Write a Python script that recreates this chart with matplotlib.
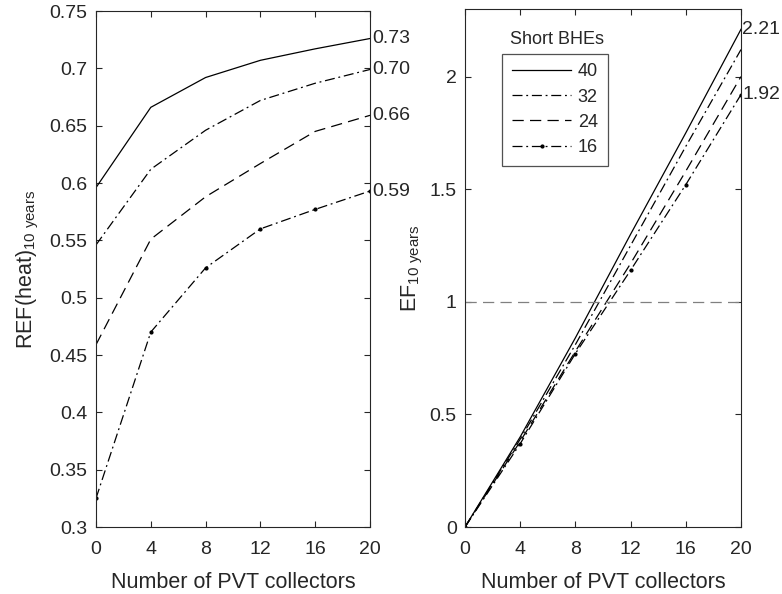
import matplotlib
matplotlib.use("Agg")
import matplotlib.pyplot as plt

plt.rcParams['font.family'] = ['Liberation Sans', 'DejaVu Sans']
plt.rcParams['mathtext.fontset'] = 'custom'
plt.rcParams['mathtext.rm'] = 'Liberation Sans'

x_pvt = [0, 4, 8, 12, 16, 20]
bhe_labels = ['40', '32', '24', '16']

ref_40 = [0.596, 0.666, 0.692, 0.707, 0.717, 0.726]
ref_32 = [0.546, 0.612, 0.646, 0.672, 0.687, 0.699]
ref_24 = [0.459, 0.551, 0.588, 0.617, 0.645, 0.659]
ref_16 = [0.325, 0.470, 0.526, 0.560, 0.577, 0.593]

ef_40 = [0.0, 0.40, 0.84, 1.30, 1.75, 2.21]
ef_32 = [0.0, 0.39, 0.81, 1.25, 1.69, 2.12]
ef_24 = [0.0, 0.38, 0.78, 1.17, 1.58, 2.00]
ef_16 = [0.0, 0.37, 0.77, 1.14, 1.52, 1.92]

ref_end_labels = ['0.73', '0.70', '0.66', '0.59']
ef_end_labels = ['2.21', '1.92']

dark = (0.15, 0.15, 0.15)
fig = plt.figure(figsize=(7.82, 5.94), dpi=100)
ax1 = fig.add_axes([96/782, 67/594, 274/782, 516/594])
ax2 = fig.add_axes([465/782, 67/594, 276/782, 518/594])

styles = [dict(ls='-'), dict(ls=(0, (8, 3, 1.5, 3))), dict(ls=(0, (9, 5))),
          dict(ls=(0, (8, 3, 1.5, 3)), marker='.', ms=4)]
lw = 0.9

for series, st in zip([ref_40, ref_32, ref_24, ref_16], styles):
    ax1.plot(x_pvt, series, color='black', lw=lw, **st)
for series, st, lab in zip([ef_40, ef_32, ef_24, ef_16], styles, bhe_labels):
    ax2.plot(x_pvt, series, color='black', lw=lw, label=lab, **st)
ax2.plot([0, 20], [1, 1], color=(0.5, 0.5, 0.5), lw=0.9, ls=(0, (9, 5)))

for ax in (ax1, ax2):
    ax.set_xlim(0, 20)
    ax.set_xticks(x_pvt)
    ax.tick_params(direction='in', top=True, right=True, length=4.5, width=0.8,
                   labelsize=14, colors=dark, pad=6)
    ax.tick_params(axis='x', pad=10)
    for s in ax.spines.values():
        s.set_color(dark)
        s.set_linewidth(0.8)
    ax.set_xlabel('Number of PVT collectors', fontsize=15.5, color=dark, labelpad=10)

ax1.set_ylim(0.3, 0.75)
ax1.set_yticks([0.3, 0.35, 0.4, 0.45, 0.5, 0.55, 0.6, 0.65, 0.7, 0.75])
ax1.set_yticklabels(['0.3', '0.35', '0.4', '0.45', '0.5', '0.55', '0.6', '0.65', '0.7', '0.75'])
ax1.set_ylabel(r'REF(heat)$_{\mathregular{10\ years}}$', fontsize=15.5, color=dark, labelpad=6)

ax2.set_ylim(0, 2.3)
ax2.set_yticks([0, 0.5, 1, 1.5, 2])
ax2.set_yticklabels(['0', '0.5', '1', '1.5', '2'])
ax2.set_ylabel(r'EF$_{\mathregular{10\ years}}$', fontsize=15.5, color=dark, labelpad=3)

for series, lab in zip([ref_40, ref_32, ref_24, ref_16], ref_end_labels):
    ax1.text(20.15, series[-1], lab, fontsize=14, color=dark, va='center', ha='left',
             clip_on=False)
for series, lab in zip([ef_40, ef_16], ef_end_labels):
    ax2.text(20.1, series[-1], lab, fontsize=14, color=dark, va='center', ha='left',
             clip_on=False)

leg = ax2.legend(loc='upper left', bbox_to_anchor=(0.134, 0.914), fontsize=13,
                 handlelength=3.3, frameon=True, fancybox=False, borderpad=0.55,
                 labelspacing=0.45, handletextpad=0.35, borderaxespad=0)
leg.get_frame().set_edgecolor(dark)
leg.get_frame().set_linewidth(0.9)
for t in leg.get_texts():
    t.set_color(dark)
ax2.text(0.333, 0.925, 'Short BHEs', transform=ax2.transAxes, fontsize=13,
         color=dark, ha='center', va='bottom')

fig.savefig('out.png', dpi=100)
